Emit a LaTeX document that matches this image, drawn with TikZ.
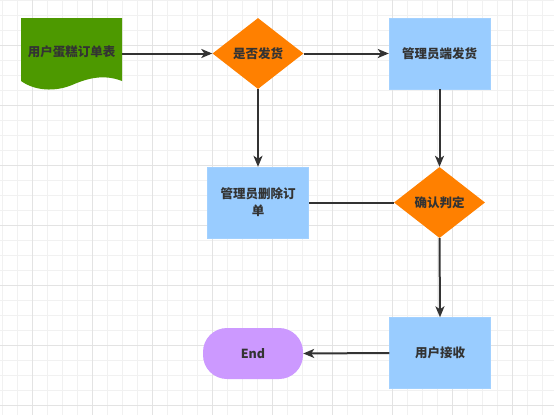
\documentclass[tikz,border=0pt]{standalone}
\usepackage{fontspec}
\newfontfamily\cjk{Noto Sans CJK SC}
\usetikzlibrary{arrows.meta,shapes.geometric}
\definecolor{gridminor}{HTML}{F1F1F1}
\definecolor{gridmajor}{HTML}{E3E3E3}
\definecolor{docgreen}{HTML}{4D9900}
\definecolor{dorange}{HTML}{FF8000}
\definecolor{lblue}{HTML}{99CCFF}
\definecolor{lpurple}{HTML}{CC99FF}
\definecolor{ink}{HTML}{333333}
\tikzset{
  lbl/.style={font=\cjk\bfseries\fontsize{12.5}{17}\selectfont, text=ink, align=center},
  bluebox/.style={lbl, fill=lblue, draw=lblue!90!white, minimum width=101pt, minimum height=71pt, inner sep=0pt},
  decide/.style={lbl, diamond, fill=dorange, draw=none, minimum width=91pt, minimum height=71pt, inner sep=0pt, aspect=1.28},
  conn/.style={draw=ink, line width=2pt},
  arr/.style={conn, -{Stealth[length=11pt,width=9pt,inset=3pt]}}
}
\begin{document}
\begin{tikzpicture}[x=1pt,y=-1pt]
\useasboundingbox (0,0) rectangle (554,415);
\fill[white] (0,0) rectangle (554,415);
% grid
\foreach \k in {0,...,36} {
  \draw[gridminor, line width=1pt] ({2.7+15*\k},0) -- ({2.7+15*\k},415);
}
\foreach \k in {0,...,27} {
  \draw[gridminor, line width=1pt] (0,{15*\k}) -- (554,{15*\k});
}
\foreach \k in {0,...,9} {
  \draw[gridmajor, line width=1pt] ({32.7+60*\k},0) -- ({32.7+60*\k},415);
}
\foreach \k in {0,...,6} {
  \draw[gridmajor, line width=1pt] (0,{45+60*\k}) -- (554,{45+60*\k});
}
% document shape
\fill[docgreen] (21,18) -- (122,18) -- (122,81)
  .. controls (104,74) and (88,78) .. (72,85)
  .. controls (55,92) and (35,91) .. (21,81) -- cycle;
\node[lbl, minimum width=101pt, minimum height=10pt] (doc) at (71.5,52) {用户蛋糕订单表};
\coordinate (docR) at (122,53.5);
% nodes
\node[decide] (d1) at (258,53.5) {是否发货};
\node[bluebox] (b1) at (439.5,53.5) {管理员端发货};
\node[bluebox] (b2) at (258,202.5) {管理员删除订\\单};
\node[decide] (d2) at (439.5,202.5) {确认判定};
\node[bluebox] (b3) at (440,353) {用户接收};
\node[lbl, fill=lpurple, rounded corners=24pt, minimum width=100pt, minimum height=51pt, inner sep=0pt] (e) at (253,353.5) {End};
% connectors
\draw[arr] (docR) -- (d1.west);
\draw[arr] (d1.east) -- (b1.west);
\draw[arr] (d1.south) -- (b2.north);
\draw[arr] (b1.south) -- (d2.north);
\draw[conn] (d2.west) -- (b2.east);
\draw[arr] (d2.south) -- (b3.north);
\draw[arr] (b3.west) -- (e.east);
\end{tikzpicture}
\end{document}
